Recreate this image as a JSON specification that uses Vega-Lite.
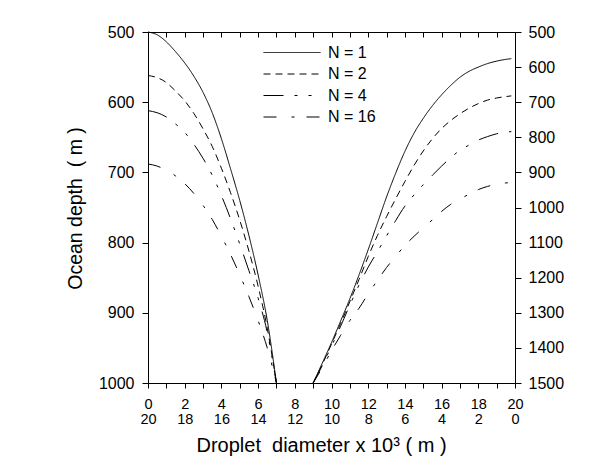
{
  "$schema": "https://vega.github.io/schema/vega-lite/v6.json",
  "width": 367,
  "height": 351,
  "autosize": {"type": "none"},
  "padding": {"left": 148, "top": 32, "right": 101, "bottom": 91},
  "background": "white",
  "config": {
    "font": "Liberation Sans",
    "view": {"stroke": null},
    "axis": {
      "domainColor": "black", "tickColor": "black", "labelColor": "black", "titleColor": "black",
      "grid": false, "labelFont": "Liberation Sans", "titleFont": "Liberation Sans", "titleFontWeight": "normal",
      "domainWidth": 1, "tickWidth": 1
    }
  },
  "data": {"values": [
    {"side": "left", "N": "N = 1", "x": 0, "depth": 500},
    {"side": "left", "N": "N = 1", "x": 0.5, "depth": 504},
    {"side": "left", "N": "N = 1", "x": 1, "depth": 514},
    {"side": "left", "N": "N = 1", "x": 1.5, "depth": 528},
    {"side": "left", "N": "N = 1", "x": 2, "depth": 544},
    {"side": "left", "N": "N = 1", "x": 2.5, "depth": 563},
    {"side": "left", "N": "N = 1", "x": 3, "depth": 586},
    {"side": "left", "N": "N = 1", "x": 3.5, "depth": 615},
    {"side": "left", "N": "N = 1", "x": 4, "depth": 652},
    {"side": "left", "N": "N = 1", "x": 4.5, "depth": 695},
    {"side": "left", "N": "N = 1", "x": 5, "depth": 740},
    {"side": "left", "N": "N = 1", "x": 5.5, "depth": 790},
    {"side": "left", "N": "N = 1", "x": 6, "depth": 846},
    {"side": "left", "N": "N = 1", "x": 6.5, "depth": 911},
    {"side": "left", "N": "N = 1", "x": 7, "depth": 1000},
    {"side": "left", "N": "N = 2", "x": 0, "depth": 562},
    {"side": "left", "N": "N = 2", "x": 0.5, "depth": 565},
    {"side": "left", "N": "N = 2", "x": 1, "depth": 572},
    {"side": "left", "N": "N = 2", "x": 1.5, "depth": 584},
    {"side": "left", "N": "N = 2", "x": 2, "depth": 598},
    {"side": "left", "N": "N = 2", "x": 2.5, "depth": 616},
    {"side": "left", "N": "N = 2", "x": 3, "depth": 638},
    {"side": "left", "N": "N = 2", "x": 3.5, "depth": 663},
    {"side": "left", "N": "N = 2", "x": 4, "depth": 694},
    {"side": "left", "N": "N = 2", "x": 4.5, "depth": 729},
    {"side": "left", "N": "N = 2", "x": 5, "depth": 768},
    {"side": "left", "N": "N = 2", "x": 5.5, "depth": 812},
    {"side": "left", "N": "N = 2", "x": 6, "depth": 862},
    {"side": "left", "N": "N = 2", "x": 6.5, "depth": 922},
    {"side": "left", "N": "N = 2", "x": 7, "depth": 1000},
    {"side": "left", "N": "N = 4", "x": 0, "depth": 612},
    {"side": "left", "N": "N = 4", "x": 0.5, "depth": 615},
    {"side": "left", "N": "N = 4", "x": 1, "depth": 621},
    {"side": "left", "N": "N = 4", "x": 1.5, "depth": 631},
    {"side": "left", "N": "N = 4", "x": 2, "depth": 643},
    {"side": "left", "N": "N = 4", "x": 2.5, "depth": 660},
    {"side": "left", "N": "N = 4", "x": 3, "depth": 680},
    {"side": "left", "N": "N = 4", "x": 3.5, "depth": 704},
    {"side": "left", "N": "N = 4", "x": 4, "depth": 733},
    {"side": "left", "N": "N = 4", "x": 4.5, "depth": 766},
    {"side": "left", "N": "N = 4", "x": 5, "depth": 802},
    {"side": "left", "N": "N = 4", "x": 5.5, "depth": 840},
    {"side": "left", "N": "N = 4", "x": 6, "depth": 879},
    {"side": "left", "N": "N = 4", "x": 6.5, "depth": 928},
    {"side": "left", "N": "N = 4", "x": 7, "depth": 1000},
    {"side": "left", "N": "N = 16", "x": 0, "depth": 688},
    {"side": "left", "N": "N = 16", "x": 0.5, "depth": 691},
    {"side": "left", "N": "N = 16", "x": 1, "depth": 697},
    {"side": "left", "N": "N = 16", "x": 1.5, "depth": 705},
    {"side": "left", "N": "N = 16", "x": 2, "depth": 716},
    {"side": "left", "N": "N = 16", "x": 2.5, "depth": 730},
    {"side": "left", "N": "N = 16", "x": 3, "depth": 747},
    {"side": "left", "N": "N = 16", "x": 3.5, "depth": 767},
    {"side": "left", "N": "N = 16", "x": 4, "depth": 791},
    {"side": "left", "N": "N = 16", "x": 4.5, "depth": 817},
    {"side": "left", "N": "N = 16", "x": 5, "depth": 846},
    {"side": "left", "N": "N = 16", "x": 5.5, "depth": 877},
    {"side": "left", "N": "N = 16", "x": 6, "depth": 911},
    {"side": "left", "N": "N = 16", "x": 6.5, "depth": 950},
    {"side": "left", "N": "N = 16", "x": 7, "depth": 1000},

    {"side": "right", "N": "N = 1", "x": 9, "depth": 1500},
    {"side": "right", "N": "N = 1", "x": 9.5, "depth": 1443},
    {"side": "right", "N": "N = 1", "x": 10, "depth": 1385},
    {"side": "right", "N": "N = 1", "x": 10.5, "depth": 1323},
    {"side": "right", "N": "N = 1", "x": 11, "depth": 1260},
    {"side": "right", "N": "N = 1", "x": 11.5, "depth": 1192},
    {"side": "right", "N": "N = 1", "x": 12, "depth": 1120},
    {"side": "right", "N": "N = 1", "x": 12.5, "depth": 1045},
    {"side": "right", "N": "N = 1", "x": 13, "depth": 970},
    {"side": "right", "N": "N = 1", "x": 13.5, "depth": 902},
    {"side": "right", "N": "N = 1", "x": 14, "depth": 840},
    {"side": "right", "N": "N = 1", "x": 14.5, "depth": 788},
    {"side": "right", "N": "N = 1", "x": 15, "depth": 746},
    {"side": "right", "N": "N = 1", "x": 15.5, "depth": 710},
    {"side": "right", "N": "N = 1", "x": 16, "depth": 679},
    {"side": "right", "N": "N = 1", "x": 16.5, "depth": 652},
    {"side": "right", "N": "N = 1", "x": 17, "depth": 629},
    {"side": "right", "N": "N = 1", "x": 17.5, "depth": 612},
    {"side": "right", "N": "N = 1", "x": 18, "depth": 600},
    {"side": "right", "N": "N = 1", "x": 18.5, "depth": 590},
    {"side": "right", "N": "N = 1", "x": 19, "depth": 583},
    {"side": "right", "N": "N = 1", "x": 19.5, "depth": 578},
    {"side": "right", "N": "N = 1", "x": 19.8, "depth": 576},
    {"side": "right", "N": "N = 2", "x": 9, "depth": 1500},
    {"side": "right", "N": "N = 2", "x": 9.5, "depth": 1447},
    {"side": "right", "N": "N = 2", "x": 10, "depth": 1389},
    {"side": "right", "N": "N = 2", "x": 10.5, "depth": 1330},
    {"side": "right", "N": "N = 2", "x": 11, "depth": 1268},
    {"side": "right", "N": "N = 2", "x": 11.5, "depth": 1205},
    {"side": "right", "N": "N = 2", "x": 12, "depth": 1140},
    {"side": "right", "N": "N = 2", "x": 12.5, "depth": 1080},
    {"side": "right", "N": "N = 2", "x": 13, "depth": 1026},
    {"side": "right", "N": "N = 2", "x": 13.5, "depth": 975},
    {"side": "right", "N": "N = 2", "x": 14, "depth": 926},
    {"side": "right", "N": "N = 2", "x": 14.5, "depth": 880},
    {"side": "right", "N": "N = 2", "x": 15, "depth": 839},
    {"side": "right", "N": "N = 2", "x": 15.5, "depth": 804},
    {"side": "right", "N": "N = 2", "x": 16, "depth": 775},
    {"side": "right", "N": "N = 2", "x": 16.5, "depth": 752},
    {"side": "right", "N": "N = 2", "x": 17, "depth": 733},
    {"side": "right", "N": "N = 2", "x": 17.5, "depth": 717},
    {"side": "right", "N": "N = 2", "x": 18, "depth": 704},
    {"side": "right", "N": "N = 2", "x": 18.5, "depth": 694},
    {"side": "right", "N": "N = 2", "x": 19, "depth": 688},
    {"side": "right", "N": "N = 2", "x": 19.5, "depth": 684},
    {"side": "right", "N": "N = 2", "x": 19.8, "depth": 682},
    {"side": "right", "N": "N = 4", "x": 9, "depth": 1500},
    {"side": "right", "N": "N = 4", "x": 9.5, "depth": 1450},
    {"side": "right", "N": "N = 4", "x": 10, "depth": 1395},
    {"side": "right", "N": "N = 4", "x": 10.5, "depth": 1338},
    {"side": "right", "N": "N = 4", "x": 11, "depth": 1278},
    {"side": "right", "N": "N = 4", "x": 11.5, "depth": 1221},
    {"side": "right", "N": "N = 4", "x": 12, "depth": 1170},
    {"side": "right", "N": "N = 4", "x": 12.5, "depth": 1126},
    {"side": "right", "N": "N = 4", "x": 13, "depth": 1081},
    {"side": "right", "N": "N = 4", "x": 13.5, "depth": 1037},
    {"side": "right", "N": "N = 4", "x": 14, "depth": 996},
    {"side": "right", "N": "N = 4", "x": 14.5, "depth": 964},
    {"side": "right", "N": "N = 4", "x": 15, "depth": 935},
    {"side": "right", "N": "N = 4", "x": 15.5, "depth": 908},
    {"side": "right", "N": "N = 4", "x": 16, "depth": 882},
    {"side": "right", "N": "N = 4", "x": 16.5, "depth": 858},
    {"side": "right", "N": "N = 4", "x": 17, "depth": 837},
    {"side": "right", "N": "N = 4", "x": 17.5, "depth": 822},
    {"side": "right", "N": "N = 4", "x": 18, "depth": 808},
    {"side": "right", "N": "N = 4", "x": 18.5, "depth": 798},
    {"side": "right", "N": "N = 4", "x": 19, "depth": 790},
    {"side": "right", "N": "N = 4", "x": 19.5, "depth": 785},
    {"side": "right", "N": "N = 4", "x": 19.8, "depth": 784},
    {"side": "right", "N": "N = 16", "x": 9, "depth": 1500},
    {"side": "right", "N": "N = 16", "x": 9.5, "depth": 1456},
    {"side": "right", "N": "N = 16", "x": 10, "depth": 1408},
    {"side": "right", "N": "N = 16", "x": 10.5, "depth": 1364},
    {"side": "right", "N": "N = 16", "x": 11, "depth": 1322},
    {"side": "right", "N": "N = 16", "x": 11.5, "depth": 1287},
    {"side": "right", "N": "N = 16", "x": 12, "depth": 1246},
    {"side": "right", "N": "N = 16", "x": 12.5, "depth": 1208},
    {"side": "right", "N": "N = 16", "x": 13, "depth": 1171},
    {"side": "right", "N": "N = 16", "x": 13.5, "depth": 1139},
    {"side": "right", "N": "N = 16", "x": 14, "depth": 1108},
    {"side": "right", "N": "N = 16", "x": 14.5, "depth": 1082},
    {"side": "right", "N": "N = 16", "x": 15, "depth": 1058},
    {"side": "right", "N": "N = 16", "x": 15.5, "depth": 1035},
    {"side": "right", "N": "N = 16", "x": 16, "depth": 1011},
    {"side": "right", "N": "N = 16", "x": 16.5, "depth": 991},
    {"side": "right", "N": "N = 16", "x": 17, "depth": 976},
    {"side": "right", "N": "N = 16", "x": 17.5, "depth": 962},
    {"side": "right", "N": "N = 16", "x": 18, "depth": 949},
    {"side": "right", "N": "N = 16", "x": 18.5, "depth": 940},
    {"side": "right", "N": "N = 16", "x": 19, "depth": 934},
    {"side": "right", "N": "N = 16", "x": 19.5, "depth": 930},
    {"side": "right", "N": "N = 16", "x": 19.7, "depth": 929}
  ]},
  "layer": [
    {
      "transform": [{"filter": "datum.side === 'left'"}],
      "mark": {"type": "line", "color": "black", "strokeWidth": 1, "interpolate": "monotone"},
      "encoding": {
        "x": {"field": "x", "type": "quantitative",
          "scale": {"domain": [0, 20], "nice": false},
          "axis": {"orient": "bottom", "values": [0,1,2,3,4,5,6,7,8,9,10,11,12,13,14,15,16,17,18,19,20],
            "tickSize": 5, "labelFontSize": 14.5, "labelLineHeight": 15, "labelPadding": 9,
            "labelExpr": "datum.value % 2 === 0 ? [datum.label, '' + (20 - datum.value)] : ''",
            "labelFlush": false, "labelOverlap": false,
            "title": "Droplet\u00a0 diameter x 10³ ( m )", "titleFontSize": 20,
            "titleX": 173, "titleY": 68, "titleBaseline": "alphabetic", "titleAlign": "center"}},
        "y": {"field": "depth", "type": "quantitative",
          "scale": {"domain": [500, 1000], "reverse": true, "nice": false, "zero": false},
          "axis": {"orient": "left", "values": [500,600,700,800,900,1000], "format": "d", "tickSize": 6, "labelPadding": 8,
            "labelFontSize": 16, "title": "Ocean depth\u00a0 ( m )", "titleFontSize": 19.5,
            "titleX": -73, "titleY": 176, "titleAngle": -90, "titleBaseline": "middle", "titleAlign": "center"}},
        "strokeDash": {"field": "N", "type": "nominal",
          "scale": {"domain": ["N = 1", "N = 2", "N = 4", "N = 16"],
            "range": [[1, 0], [7, 5], [20, 11, 3, 11, 3, 12], [13, 15, 3, 12]]},
          "legend": {"orient": "none", "legendX": 115, "legendY": 10, "title": null,
            "symbolType": "stroke", "symbolSize": 3249, "symbolStrokeWidth": 1, "symbolStrokeColor": "black",
            "labelFontSize": 16, "labelColor": "black", "clipHeight": 21, "rowPadding": 0.5, "labelOffset": 7, "padding": 0}}
      }
    },
    {
      "transform": [{"filter": "datum.side === 'right'"}],
      "mark": {"type": "line", "color": "black", "strokeWidth": 1, "interpolate": "monotone"},
      "encoding": {
        "x": {"field": "x", "type": "quantitative",
          "scale": {"domain": [0, 20], "nice": false},
          "axis": {"orient": "top", "values": [0,1,2,3,4,5,6,7,8,9,10,11,12,13,14,15,16,17,18,19,20],
            "tickSize": -5, "labels": false, "title": null}},
        "y": {"field": "depth", "type": "quantitative",
          "scale": {"domain": [500, 1500], "reverse": true, "nice": false, "zero": false},
          "axis": {"orient": "right", "values": [500,600,700,800,900,1000,1100,1200,1300,1400,1500], "format": "d",
            "tickSize": 6, "labelPadding": 7, "labelFontSize": 16, "title": null}},
        "strokeDash": {"field": "N", "type": "nominal",
          "scale": {"domain": ["N = 1", "N = 2", "N = 4", "N = 16"],
            "range": [[1, 0], [7, 5], [20, 11, 3, 11, 3, 12], [13, 15, 3, 12]]},
          "legend": {"orient": "none", "legendX": 115, "legendY": 10, "title": null,
            "symbolType": "stroke", "symbolSize": 3249, "symbolStrokeWidth": 1, "symbolStrokeColor": "black",
            "labelFontSize": 16, "labelColor": "black", "clipHeight": 21, "rowPadding": 0.5, "labelOffset": 7, "padding": 0}}
      }
    }
  ],
  "resolve": {"scale": {"y": "independent"}, "axis": {"x": "independent", "y": "independent"}}
}
